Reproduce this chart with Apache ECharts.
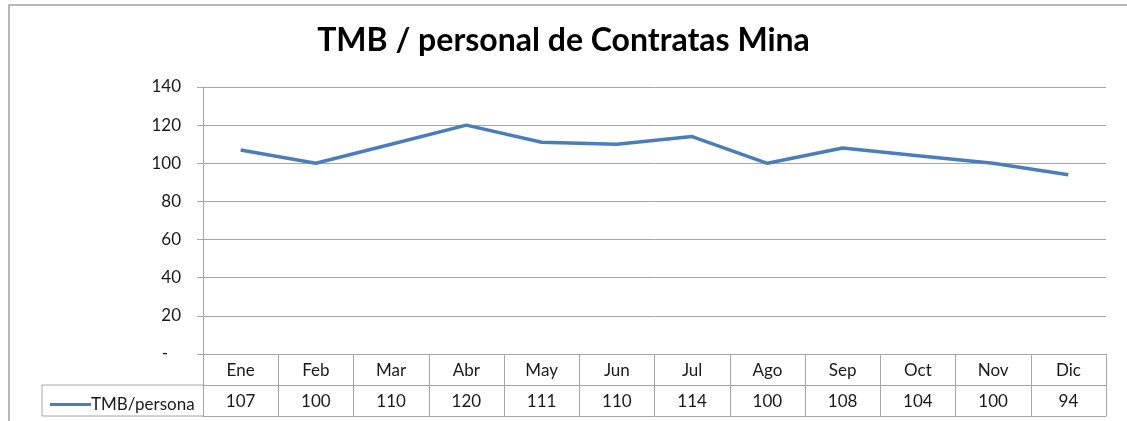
<!DOCTYPE html>
<html>
<head>
<meta charset="utf-8">
<script src="https://cdn.jsdelivr.net/npm/echarts@6/dist/echarts.min.js"></script>
<style>
  html, body { margin: 0; padding: 0; background: #fff; }
  #chart { width: 1127px; height: 421px; }
</style>
</head>
<body>
<div id="chart"></div>
<script>
/* TMB / personal de Contratas Mina — línea con tabla de datos (estilo Excel) */

var months = ["Ene", "Feb", "Mar", "Abr", "May", "Jun", "Jul", "Ago", "Sep", "Oct", "Nov", "Dic"];
var tmbPersona = [107, 100, 110, 120, 111, 110, 114, 100, 108, 104, 100, 94];
var seriesName = "TMB/persona";
var yTicks = { min: 0, max: 140, step: 20 };

var FONT = "Lato, 'Open Sans', sans-serif";
var FS = 17;
var GRAY = "#a6a6a6";
var TXT = "#1a1a1a";
var LINE_BLUE = "#4a7ebb";

// grid en px (área de trazado)
var G = { left: 203, right: 21, top: 87, bottom: 67 };
var ROW = 31;           // alto de cada fila de la tabla
var LEG_LEFT = 42;      // borde izquierdo de la celda de leyenda

var chart = echarts.init(document.getElementById("chart"), null, { renderer: "canvas" });

var axisY = 421 - G.bottom;

chart.setOption({
  animation: false,
  title: {
    text: "TMB / personal de Contratas Mina",
    left: "center", top: 20,
    textStyle: { fontFamily: FONT, fontSize: 32, fontWeight: "bold", color: "#000" }
  },
  legend: {
    data: [seriesName],
    left: LEG_LEFT + 3, top: axisY + ROW + 6,
    icon: "rect", itemWidth: 41, itemHeight: 3, itemGap: 0,
    textStyle: { fontFamily: FONT, fontSize: FS, color: TXT, padding: [0, 0, 0, -5] }
  },
  grid: { left: G.left, right: G.right, top: G.top, bottom: G.bottom },
  xAxis: [
    {
      type: "category", data: months, position: "bottom", boundaryGap: true,
      axisLine: { lineStyle: { color: GRAY, width: 1 } },
      axisTick: { show: true, length: ROW * 2, lineStyle: { color: GRAY } },
      axisLabel: { margin: 8, fontFamily: FONT, fontSize: FS, color: TXT }
    },
    {
      type: "category", data: months, position: "bottom", offset: ROW,
      axisLine: { lineStyle: { color: GRAY, width: 1 } },
      axisTick: { show: false },
      axisLabel: {
        margin: 8, fontFamily: FONT, fontSize: FS, color: TXT,
        formatter: function (v, i) { return String(tmbPersona[i]); }
      }
    },
    {
      type: "category", data: months, position: "bottom", offset: ROW * 2,
      axisLine: { lineStyle: { color: GRAY, width: 1 } },
      axisTick: { show: false }, axisLabel: { show: false }
    }
  ],
  yAxis: {
    type: "value", min: yTicks.min, max: yTicks.max, interval: yTicks.step,
    axisLine: { show: true, lineStyle: { color: GRAY } },
    axisTick: { show: true, length: 6, lineStyle: { color: GRAY } },
    splitLine: { lineStyle: { color: GRAY, width: 1 } },
    axisLabel: {
      margin: 22, fontFamily: FONT, fontSize: FS, color: TXT,
      formatter: function (v) { return v === 0 ? "-   " : String(v); }
    }
  },
  graphic: [
    // marco exterior del gráfico
    { type: "rect", shape: { x: 9, y: 5, width: 1140, height: 440 },
      style: { fill: "none", stroke: "#a0a0a0", lineWidth: 1.5 }, silent: true },
    // celda de leyenda de la tabla
    { type: "polyline",
      shape: { points: [[G.left, axisY + ROW], [LEG_LEFT, axisY + ROW], [LEG_LEFT, axisY + ROW * 2], [G.left, axisY + ROW * 2]] },
      style: { fill: "none", stroke: GRAY, lineWidth: 1 }, silent: true }
  ],
  series: [{
    name: seriesName, type: "line", data: tmbPersona,
    showSymbol: false, symbol: "none",
    lineStyle: { color: LINE_BLUE, width: 3.5 },
    itemStyle: { color: LINE_BLUE }
  }]
});
</script>
</body>
</html>
